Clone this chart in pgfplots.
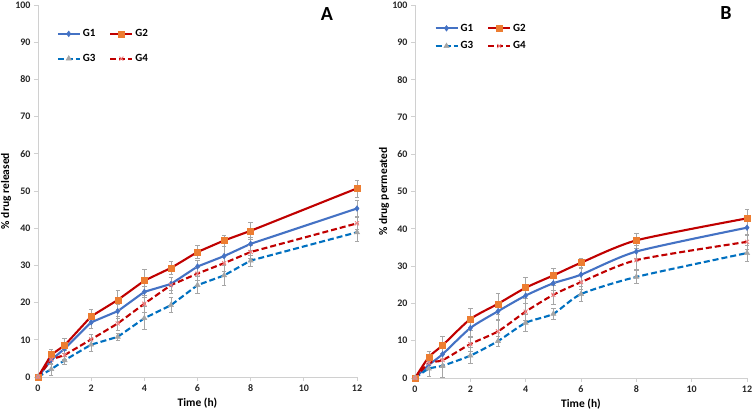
\documentclass[border=0pt]{standalone}
\usepackage{pgfplots}
\pgfplotsset{compat=1.18}
\usepackage{fontspec}
\setmainfont{Carlito}
\definecolor{cG1}{HTML}{4472C4}
\definecolor{cG2}{HTML}{C00000}
\definecolor{cG2m}{HTML}{ED7D31}
\definecolor{cG3}{HTML}{0070C0}
\definecolor{cG3m}{HTML}{A5A5A5}
\definecolor{cG4}{HTML}{C00000}
\definecolor{cG4m}{HTML}{F08080}
\definecolor{axgray}{HTML}{D0D0D0}
\pgfplotsset{
  myaxis/.style={
    scale only axis,
    xmin=0, xmax=12, ymin=0, ymax=100,
    xtick={0,2,4,6,8,10,12}, ytick={0,10,...,100},
    axis x line*=bottom, axis y line*=left,
    axis line style={axgray, line width=0.8pt, -},
    tick style={axgray, line width=0.8pt},
    tick align=outside, major tick length=4pt,
    /pgf/number format/assume math mode=true,
    ticklabel style={font=\fontsize{10}{11}\selectfont\bfseries, text=black!85},
    xlabel style={font=\fontsize{11.5}{13}\selectfont\bfseries, anchor=center, at={(axis description cs:0.5,0)}, yshift=-26pt},
    ylabel style={font=\fontsize{11.5}{13}\selectfont\bfseries, anchor=center},
    xlabel={Time (h)},
    clip=false,
    legend columns=2,
    legend style={draw=none, fill=none, font=\fontsize{11}{13}\selectfont\bfseries, inner sep=0pt, anchor=north west, /tikz/every even column/.append style={column sep=12pt}},
    legend cell align=left,
    legend image code/.code={\draw[mark repeat=2,mark phase=2,#1] plot coordinates {(0pt,0pt)(11pt,0pt)(22pt,0pt)};},
  },
  eb/.style={
    error bars/y dir=both, error bars/y explicit,
    error bars/error bar style={gray!70, line width=0.6pt, solid},
    error bars/error mark options={gray!70, rotate=90, mark size=2.2pt, line width=0.6pt, solid},
  },
  sG1/.style={eb, cG1, line width=2.1pt, solid, mark=diamond*, mark size=2.8pt, mark options={fill=cG1, draw=cG1, solid, line width=0.5pt}},
  sG2/.style={eb, cG2, line width=2.1pt, solid, mark=square*, mark size=3pt, mark options={fill=cG2m, draw=cG2m, solid, line width=0.5pt}},
  sG3/.style={eb, cG3, line width=2.1pt, dash pattern=on 6pt off 3pt, mark=triangle*, mark size=3pt, mark options={fill=cG3m, draw=cG3m, solid, line width=0.5pt}},
  sG4/.style={eb, cG4, line width=2.1pt, dash pattern=on 6pt off 3pt, mark=x, mark size=2.8pt, mark options={draw=cG4m, solid, line width=0.9pt}},
}
\begin{document}
\begin{tikzpicture}
\useasboundingbox (0,0) rectangle (753pt,412pt);
% Panel A
\begin{axis}[myaxis, at={(38pt,35pt)}, anchor=south west, width=319pt, height=372pt,
  ylabel={\% drug released},
  ylabel style={at={(axis description cs:-0.10,0.5)}},
  legend style={at={(axis description cs:0.058,0.94)}, row sep=12pt}]
\addplot+[sG1] table[x=t, y=v, y error=e] {
t v e
0 0 0
0.5 4.6 1.2
1 7.6 1.3
2 14.7 1.6
3 17.7 1.8
4 22.9 1.5
5 25.0 1.8
6 29.7 1.6
7 32.5 2.5
8 35.8 1.8
12 45.3 2.2
};
\addplot+[sG2] table[x=t, y=v, y error=e] {
t v e
0 0 0
0.5 6.0 1.5
1 8.5 2.0
2 16.3 1.8
3 20.7 2.5
4 25.9 3.0
5 29.3 1.8
6 33.6 1.7
7 36.7 1.5
8 39.3 2.2
12 50.7 2.3
};
\addplot+[sG3] table[x=t, y=v, y error=e] {
t v e
0 0 0
0.5 2.1 1.7
1 4.5 1.0
2 8.7 1.8
3 10.8 1.0
4 15.8 3.1
5 19.3 2.0
6 24.7 2.3
7 27.3 2.6
8 31.3 1.5
12 38.9 2.5
};
\addplot+[sG4] table[x=t, y=v, y error=e] {
t v e
0 0 0
0.5 4.7 1.2
1 5.9 1.2
2 10.1 1.5
3 14.4 1.8
4 19.7 2.2
5 24.7 2.2
6 27.8 1.8
7 30.6 2.2
8 33.6 1.8
12 41.3 1.6
};
\legend{G1,G2,G3,G4}
\node[font=\fontsize{20}{22}\selectfont\bfseries] at (axis description cs:0.906,0.976) {A};
\end{axis}
% Panel B
\begin{axis}[myaxis, at={(415pt,34pt)}, anchor=south west, width=332pt, height=373pt,
  ylabel={\% drug permeated},
  ylabel style={at={(axis description cs:-0.093,0.5)}},
  legend style={at={(axis description cs:0.058,0.955)}, row sep=5pt}]
\addplot+[sG1, smooth, tension=0.4] table[x=t, y=v, y error=e] {
t v e
0 0 0
0.5 3.5 1.2
1 6.4 1.5
2 13.4 2.5
3 17.9 2.2
4 22.1 2.2
5 25.4 2.0
6 27.7 1.8
8 33.9 1.8
12 40.3 2.0
};
\addplot+[sG2, smooth, tension=0.4] table[x=t, y=v, y error=e] {
t v e
0 0 0
0.5 5.6 1.6
1 8.8 2.3
2 15.8 3.0
3 19.9 2.7
4 24.2 2.9
5 27.5 1.9
6 30.9 1.3
8 36.9 2.0
12 42.8 2.3
};
\addplot+[sG3, smooth, tension=0.4] table[x=t, y=v, y error=e] {
t v e
0 0 0
0.5 2.5 2.0
1 3.3 3.2
2 6.0 2.1
3 9.9 1.4
4 14.8 2.3
5 17.2 1.5
6 22.5 2.0
8 27.1 1.7
12 33.5 2.2
};
\addplot+[sG4, smooth, tension=0.4] table[x=t, y=v, y error=e] {
t v e
0 0 0
0.5 4.0 1.5
1 4.8 1.8
2 9.1 2.0
3 12.5 3.0
4 17.8 2.2
5 22.3 2.5
6 25.7 2.0
8 31.6 2.5
12 36.5 2.0
};
\legend{G1,G2,G3,G4}
\node[font=\fontsize{20}{22}\selectfont\bfseries] at (axis description cs:0.937,0.979) {B};
\end{axis}
\end{tikzpicture}
\end{document}
